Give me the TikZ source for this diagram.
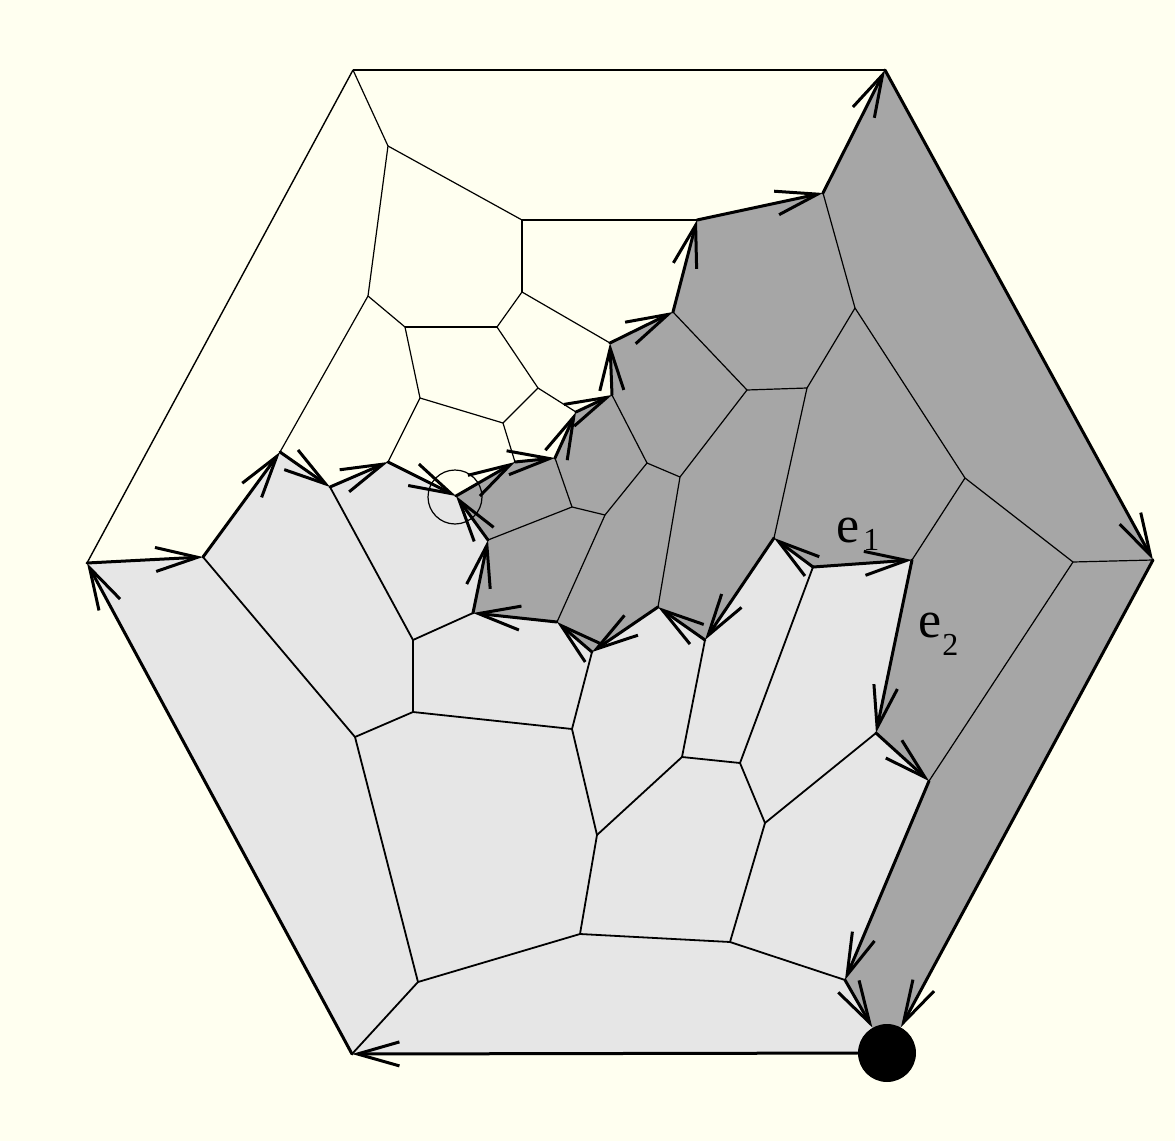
\documentclass[tikz,border=0pt]{standalone}
\usepackage{fontspec}
\setmainfont{Liberation Serif}
\usetikzlibrary{arrows.meta}
\definecolor{bgivory}{RGB}{255,255,240}
\definecolor{lightfill}{RGB}{230,230,230}
\definecolor{darkfill}{RGB}{166,166,166}
\begin{document}
\begin{tikzpicture}[x=0.5pt,y=-0.5pt,
  thinedge/.style={line width=0.6pt},
  lightedge/.style={line width=0.9pt},
  outeredge/.style={line width=0.7pt},
  arr/.style={line width=1.5pt,line cap=round,-{Straight Barb[length=21pt,width=12pt,line width=1.5pt]}},
  lbl/.style={inner sep=0pt,anchor=base west,font=\fontsize{26}{26}\selectfont},
  dotnode/.style={circle,fill=black,inner sep=0pt,minimum size=29pt},
  ringnode/.style={circle,draw,line width=0.6pt,inner sep=0pt,minimum size=27pt}]
\fill[bgivory] (0,0) rectangle (1175,1141);
\useasboundingbox (0,0) rectangle (1175,1141);
% vertices
\coordinate (A) at (353,70);
\coordinate (B) at (885,70);
\coordinate (C) at (1153,560);
\coordinate (Dc) at (887,1053);
\coordinate (E) at (352,1054);
\coordinate (F) at (87,563);
\coordinate (a1) at (203,557);
\coordinate (a2) at (280,452);
\coordinate (a3) at (330,487);
\coordinate (a4) at (388,462);
\coordinate (O) at (456,496);
\coordinate (S) at (515,462);
\coordinate (v15) at (555,458);
\coordinate (R) at (576,412);
\coordinate (v14) at (612,395);
\coordinate (v8) at (610,343);
\coordinate (v9) at (673,312);
\coordinate (v3) at (697,220);
\coordinate (w1) at (823,193);
\coordinate (v1) at (388,146);
\coordinate (v2) at (522,220);
\coordinate (v4) at (522,292);
\coordinate (v5) at (368,296);
\coordinate (v6) at (405,327);
\coordinate (v7) at (497,327);
\coordinate (v10) at (420,398);
\coordinate (v12) at (538,388);
\coordinate (v13) at (503,423);
\coordinate (P) at (488,540);
\coordinate (d1) at (572,507);
\coordinate (d2) at (605,515);
\coordinate (d3) at (647,463);
\coordinate (d4) at (680,477);
\coordinate (d5) at (747,390);
\coordinate (d6) at (807,388);
\coordinate (d7) at (855,308);
\coordinate (d8) at (965,478);
\coordinate (d9) at (1073,562);
\coordinate (b1) at (473,613);
\coordinate (b2) at (557,622);
\coordinate (b3) at (592,652);
\coordinate (b4) at (658,607);
\coordinate (b5) at (705,640);
\coordinate (b6) at (774,538);
\coordinate (b7) at (813,567);
\coordinate (b8) at (912,560);
\coordinate (b9) at (876,733);
\coordinate (b10) at (929,781);
\coordinate (b11) at (845,980);
\coordinate (c1) at (413,640);
\coordinate (c2) at (413,712);
\coordinate (c3) at (355,737);
\coordinate (c4) at (572,729);
\coordinate (c5) at (418,982);
\coordinate (c6) at (597,835);
\coordinate (c7) at (580,934);
\coordinate (c8) at (682,757);
\coordinate (c9) at (730,942);
\coordinate (c10) at (740,763);
\coordinate (c11) at (765,823);
% fills
\fill[darkfill] (O)--(S)--(v15)--(R)--(v14)--(v8)--(v9)--(v3)--(w1)--(B)--(C)--(Dc)--(b11)--(b10)--(b9)--(b8)--(b7)--(b6)--(b5)--(b4)--(b3)--(b2)--(b1)--(P)--cycle;
\fill[lightfill] (Dc)--(E)--(F)--(a1)--(a2)--(a3)--(a4)--(O)--(P)--(b1)--(b2)--(b3)--(b4)--(b5)--(b6)--(b7)--(b8)--(b9)--(b10)--(b11)--cycle;
% outer thin edges
\draw[outeredge] (A)--(B);
\draw[outeredge] (A)--(F);
% white region edges
\draw[thinedge] (A)--(v1);
\draw[thinedge] (v1)--(v2);
\draw[thinedge] (v1)--(v5);
\draw[thinedge] (v2)--(v3);
\draw[thinedge] (v2)--(v4);
\draw[thinedge] (v4)--(v7);
\draw[thinedge] (v4)--(v8);
\draw[thinedge] (v5)--(v6);
\draw[thinedge] (v5)--(a2);
\draw[thinedge] (v6)--(v7);
\draw[thinedge] (v6)--(v10);
\draw[thinedge] (v7)--(v12);
\draw[thinedge] (v10)--(v13);
\draw[thinedge] (v10)--(a4);
\draw[thinedge] (v12)--(v13);
\draw[thinedge] (v12)--(R);
\draw[thinedge] (v13)--(S);
% dark region edges
\draw[thinedge] (P)--(d1);
\draw[thinedge] (d1)--(v15);
\draw[thinedge] (d1)--(d2);
\draw[thinedge] (d2)--(b2);
\draw[thinedge] (d2)--(d3);
\draw[thinedge] (d3)--(v14);
\draw[thinedge] (d3)--(d4);
\draw[thinedge] (d4)--(b4);
\draw[thinedge] (d4)--(d5);
\draw[thinedge] (d5)--(v9);
\draw[thinedge] (d5)--(d6);
\draw[thinedge] (d6)--(b6);
\draw[thinedge] (d6)--(d7);
\draw[thinedge] (d7)--(w1);
\draw[thinedge] (d7)--(d8);
\draw[thinedge] (d8)--(b8);
\draw[thinedge] (d8)--(d9);
\draw[thinedge] (d9)--(C);
\draw[thinedge] (d9)--(b10);
% light region edges
\draw[lightedge] (a1)--(c3);
\draw[lightedge] (a3)--(c1);
\draw[lightedge] (c1)--(b1);
\draw[lightedge] (c1)--(c2);
\draw[lightedge] (c2)--(c3);
\draw[lightedge] (c2)--(c4);
\draw[lightedge] (c3)--(c5);
\draw[lightedge] (c5)--(E);
\draw[lightedge] (c5)--(c7);
\draw[lightedge] (c4)--(b3);
\draw[lightedge] (c4)--(c6);
\draw[lightedge] (c6)--(c7);
\draw[lightedge] (c6)--(c8);
\draw[lightedge] (c8)--(b5);
\draw[lightedge] (c8)--(c10);
\draw[lightedge] (c10)--(b7);
\draw[lightedge] (c10)--(c11);
\draw[lightedge] (c11)--(b9);
\draw[lightedge] (c11)--(c9);
\draw[lightedge] (c9)--(c7);
\draw[lightedge] (c9)--(b11);
% ring and root
\node[ringnode] (ring) at (455,497) {};
\node[dotnode] (D) at (Dc) {};
% directed boundary edges
\draw[arr] (D)--(E);
\draw[arr] (E)--(F);
\draw[arr] (F)--(a1);
\draw[arr] (a1)--(a2);
\draw[arr] (a2)--(a3);
\draw[arr] (a3)--(a4);
\draw[arr] (a4)--(O);
\draw[arr] (O)--(S);
\draw[arr] (S)--(v15);
\draw[arr] (v15)--(R);
\draw[arr] (R)--(v14);
\draw[arr] (v14)--(v8);
\draw[arr] (v8)--(v9);
\draw[arr] (v9)--(v3);
\draw[arr] (v3)--(w1);
\draw[arr] (w1)--(B);
\draw[arr] (B)--(C);
\draw[arr] (C)--(D);
\draw[arr] (P)--(O);
\draw[arr] (b1)--(P);
\draw[arr] (b2)--(b1);
\draw[arr] (b3)--(b2);
\draw[arr] (b4)--(b3);
\draw[arr] (b5)--(b4);
\draw[arr] (b6)--(b5);
\draw[arr] (b7)--(b6);
\draw[arr] (b7)--(b8);
\draw[arr] (b8)--(b9);
\draw[arr] (b9)--(b10);
\draw[arr] (b10)--(b11);
\draw[arr] (b11)--(D);
% labels
\node[lbl] (e1) at (836,542) {e\hspace{2pt}\raisebox{-4pt}{\fontsize{16}{16}\selectfont 1}};
\node[lbl] (e2) at (918,637) {e\hspace{0.5pt}\raisebox{-9pt}{\fontsize{16}{16}\selectfont 2}};
\end{tikzpicture}
\end{document}
